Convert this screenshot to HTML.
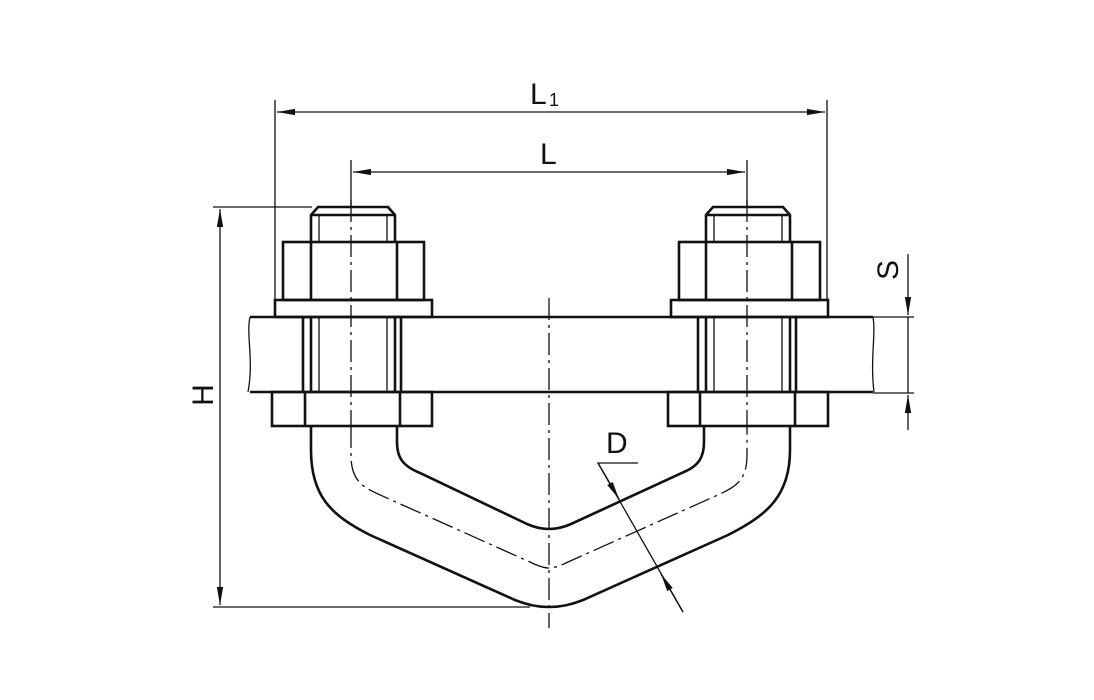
<!DOCTYPE html>
<html><head><style>body{margin:0;background:#fff}svg{display:block}</style></head><body>
<svg width="1094" height="700" viewBox="0 0 1094 700" xmlns="http://www.w3.org/2000/svg" font-family="Liberation Sans, sans-serif">
<defs>
<marker id="a" viewBox="0 0 20 10" refX="20" refY="5" markerWidth="18" markerHeight="9" markerUnits="userSpaceOnUse" orient="auto-start-reverse"><path d="M0,1.5 L20,5 L0,8.5 Z" fill="#111"/></marker>
</defs>
<g stroke="#111" fill="none">
<g stroke-width="1.3">
<line x1="275" y1="100" x2="275" y2="300"/><line x1="827" y1="100" x2="827" y2="300"/>
<line x1="277" y1="112" x2="825" y2="112" marker-start="url(#a)" marker-end="url(#a)"/>
<line x1="351" y1="160" x2="351" y2="207"/><line x1="747" y1="160" x2="747" y2="207"/>
<line x1="353" y1="172" x2="745" y2="172" marker-start="url(#a)" marker-end="url(#a)"/>
<line x1="213" y1="207" x2="312" y2="207"/><line x1="213" y1="607" x2="530" y2="607"/>
<line x1="220" y1="209" x2="220" y2="605" marker-start="url(#a)" marker-end="url(#a)"/>
<line x1="873" y1="317" x2="914" y2="317"/><line x1="873" y1="393" x2="914" y2="393"/>
<line x1="908" y1="254" x2="908" y2="315" marker-end="url(#a)"/>
<line x1="908" y1="430" x2="908" y2="395" marker-end="url(#a)"/>
<line x1="908" y1="317" x2="908" y2="393"/>
<path d="M638,463 L598,463 L683,612"/>
<line x1="598" y1="463" x2="619" y2="499" marker-end="url(#a)"/>
<line x1="683" y1="612" x2="661" y2="574" marker-end="url(#a)"/>
<g stroke-dasharray="22,5,3,5">
<line x1="549" y1="298" x2="549" y2="628"/>
<line x1="351" y1="200" x2="351" y2="425"/>
<line x1="747" y1="200" x2="747" y2="425"/>
<path d="M351,426 L351,455 C351,478 360,486 378,494 L530,562 C538,566 544,568 549,568 C554,568 560,566 568,562 L720,494 C738,486 747,478 747,455 L747,426"/>
</g>
<line x1="319" y1="215" x2="319" y2="242"/><line x1="387" y1="215" x2="387" y2="242"/>
<line x1="714" y1="215" x2="714" y2="242"/><line x1="782" y1="215" x2="782" y2="242"/>
<line x1="319" y1="317" x2="319" y2="392"/><line x1="387" y1="317" x2="387" y2="392"/>
<line x1="714" y1="317" x2="714" y2="392"/><line x1="782" y1="317" x2="782" y2="392"/>
<path d="M250,317 C246,335 254,360 248,392"/>
<path d="M873,317 C876,335 870,360 874,392"/>
</g>
<g stroke-width="2.6">
<line x1="250" y1="317" x2="873" y2="317"/><line x1="250" y1="392" x2="873" y2="392"/>
<path d="M311,242 L311,215 L318,207 L388,207 L395,215 L395,242"/>
<line x1="311" y1="215" x2="395" y2="215"/>
<rect x="283" y="242" width="141" height="58"/>
<line x1="311" y1="242" x2="311" y2="300"/><line x1="397" y1="242" x2="397" y2="300"/>
<rect x="275" y="300" width="157" height="17"/>
<line x1="303" y1="317" x2="303" y2="392"/><line x1="311" y1="317" x2="311" y2="392"/>
<line x1="395" y1="317" x2="395" y2="392"/><line x1="401" y1="317" x2="401" y2="392"/>
<rect x="272" y="392" width="160" height="34"/>
<line x1="305" y1="392" x2="305" y2="426"/><line x1="400" y1="392" x2="400" y2="426"/>
<path d="M706,242 L706,215 L713,207 L783,207 L790,215 L790,242"/>
<line x1="706" y1="215" x2="790" y2="215"/>
<rect x="679" y="242" width="141" height="58"/>
<line x1="706" y1="242" x2="706" y2="300"/><line x1="792" y1="242" x2="792" y2="300"/>
<rect x="671" y="300" width="157" height="17"/>
<line x1="698" y1="317" x2="698" y2="392"/><line x1="706" y1="317" x2="706" y2="392"/>
<line x1="790" y1="317" x2="790" y2="392"/><line x1="796" y1="317" x2="796" y2="392"/>
<rect x="668" y="392" width="160" height="34"/>
<line x1="700" y1="392" x2="700" y2="426"/><line x1="795" y1="392" x2="795" y2="426"/>
<path d="M311,426 L311,450 C311,495 330,515 370,535 L515,600 C530,606 540,607 549,607 C558,607 568,606 583,600 L728,535 C768,515 790,495 790,450 L790,426"/>
<path d="M397,426 L397,442 C397,458 403,466 420,473 L527,524 C536,528 543,529 549,529 C555,529 562,528 571,524 L684,472 C698,466 704,458 704,442 L704,426"/>
</g>
</g>
<g fill="#111" font-size="30">
<text x="530" y="104">L</text><text x="549" y="106" font-size="18">1</text>
<text x="540" y="164">L</text>
<text x="606" y="453">D</text>
<text transform="translate(213,395) rotate(-90)" text-anchor="middle">H</text>
<text transform="translate(898,270) rotate(-90)" text-anchor="middle">S</text>
</g>
</svg>
</body></html>
